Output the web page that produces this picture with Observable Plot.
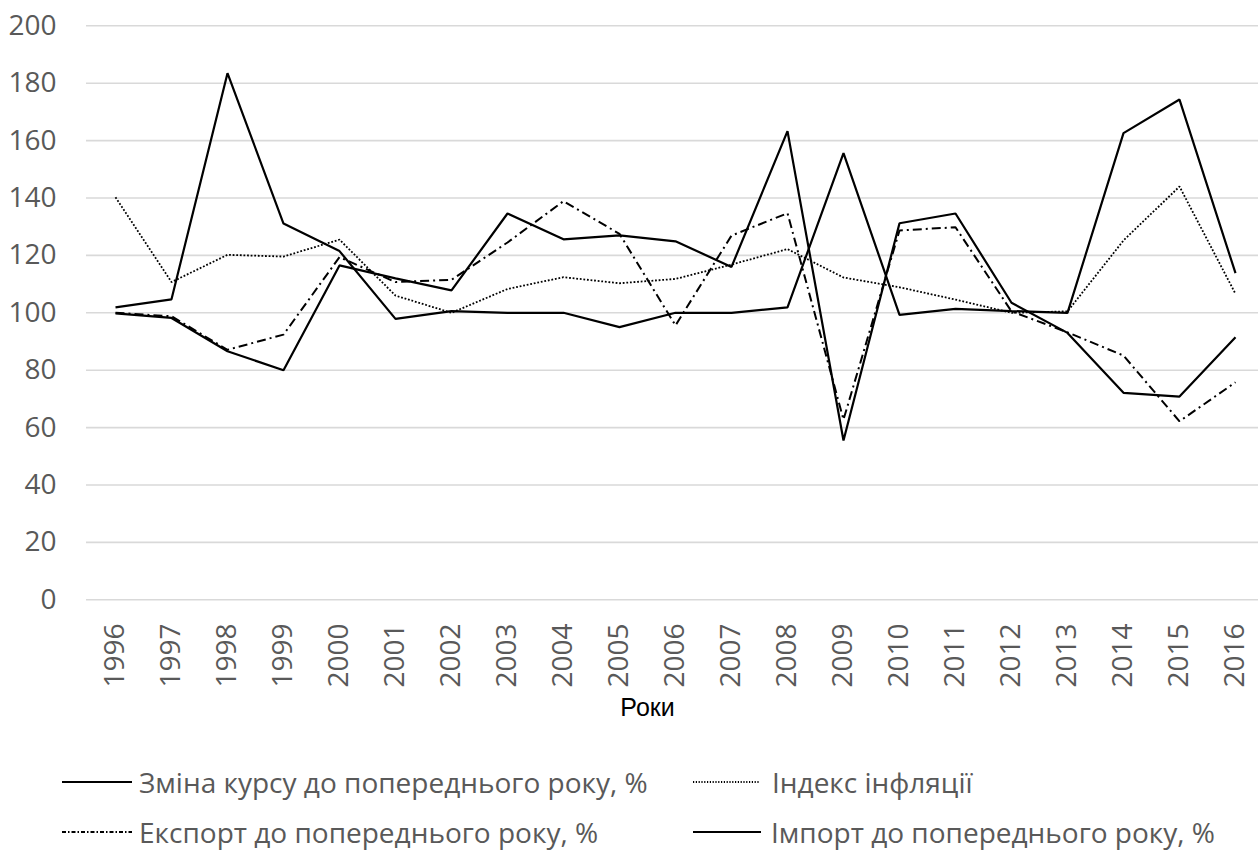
<!DOCTYPE html>
<html>
<head>
<meta charset="utf-8">
<script src="https://cdn.jsdelivr.net/npm/d3@7"></script>
<script src="https://cdn.jsdelivr.net/npm/@observablehq/plot@0.6"></script>
<style>
  html, body { margin: 0; padding: 0; background: #fff; }
  #wrap { position: relative; width: 1258px; height: 868px; font-family: "Open Sans", sans-serif; }
  #legend { position: absolute; left: 0; top: 0; width: 1258px; height: 868px; pointer-events: none; }
  .item { position: absolute; display: flex; align-items: center; font-size: 28px; color: #595959; white-space: nowrap; }
  .item svg { display: block; }
</style>
</head>
<body>
<div id="wrap"><div id="chart"></div><div id="legend"></div></div>
<script>
const years = [1996, 1997, 1998, 1999, 2000, 2001, 2002, 2003, 2004, 2005, 2006, 2007, 2008, 2009, 2010, 2011, 2012, 2013, 2014, 2015, 2016];
const kurs      = [101.9, 104.7, 183.5, 131.1, 121.5, 97.9, 100.6, 100, 100, 95, 100, 100, 101.9, 155.6, 99.3, 101.4, 100.6, 100, 162.6, 174.3, 113.8];
const inflation = [140.3, 110.7, 120.2, 119.6, 125.5, 106, 100, 108.3, 112.4, 110.3, 111.8, 116.8, 122.2, 112.3, 108.9, 104.6, 100, 100.5, 125.2, 144, 106.6];
const exportY   = [100, 98.8, 87.1, 92.4, 119.4, 110.7, 111.5, 124.5, 138.9, 127.5, 95.6, 126.9, 134.7, 62.8, 128.7, 129.8, 100.5, 93.2, 85.1, 62.2, 75.8];
const importY   = [99.8, 98.2, 86.6, 80, 116.5, 112, 107.8, 134.6, 125.6, 127, 124.9, 116, 163.3, 55.5, 131.2, 134.6, 103.5, 93, 72.1, 70.8, 91.5];
const yTicks = [0, 20, 40, 60, 80, 100, 120, 140, 160, 180, 200];
const seriesNames = ["Зміна курсу до попереднього року, %", "Індекс інфляції", "Експорт до попереднього року, %", "Імпорт до попереднього року, %"];
const xLabel = "Роки";

const styles = [
  {stroke: "#000", width: 2.2, dash: null},
  {stroke: "#000", width: 1.8, dash: "1.8,1.8"},
  {stroke: "#000", width: 2, dash: "9,4,2,4"},
  {stroke: "#000", width: 2.2, dash: null}
];
const seriesValues = [kurs, inflation, exportY, importY];
const rows = seriesValues.map(vals => years.map((y, i) => ({year: y, value: vals[i]})));

const chart = Plot.plot({
  width: 1258,
  height: 740,
  marginLeft: 86,
  marginRight: 0,
  marginTop: 25,
  marginBottom: 141,
  style: {fontFamily: "'Open Sans', sans-serif", background: "#fff", color: "#595959"},
  x: {type: "point", domain: years, range: [114.3, 1236], padding: 0},
  y: {domain: [0, 200], range: [599.3, 25.3]},
  marks: [
    Plot.ruleY(yTicks, {stroke: "#d9d9d9", strokeWidth: 1.6}),
    Plot.axisY({ticks: yTicks, tickSize: 0, tickPadding: 30, fontSize: 28, label: null, fill: "#595959"}),
    Plot.axisX({tickSize: 0, tickPadding: 24, tickRotate: -90, fontSize: 28, tickFormat: d => `${d}`, label: null, fill: "#595959"}),
    Plot.text([xLabel], {text: d => d, frameAnchor: "bottom", lineAnchor: "top", dy: 99, dx: -25, fontSize: 25, fill: "#000", fontFamily: "'Liberation Sans', Arial, sans-serif"}),
    ...rows.map((data, k) => Plot.line(data, {
      x: "year", y: "value",
      stroke: styles[k].stroke, strokeWidth: styles[k].width,
      strokeDasharray: styles[k].dash, strokeLinejoin: "miter", strokeLinecap: "butt"
    }))
  ]
});
document.getElementById("chart").appendChild(chart);

// Legend (HTML below the chart)
const legendPos = [
  {left: 62, top: 782, lineW: 70, gap: 7},
  {left: 693, top: 782, lineW: 66, gap: 13},
  {left: 62, top: 832, lineW: 70, gap: 7},
  {left: 693, top: 832, lineW: 68, gap: 10}
];
const legend = document.getElementById("legend");
seriesNames.forEach((name, k) => {
  const p = legendPos[k];
  const div = document.createElement("div");
  div.className = "item";
  div.style.left = p.left + "px";
  div.style.top = (p.top - 20) + "px";
  div.style.height = "40px";
  const ns = "http://www.w3.org/2000/svg";
  const svg = document.createElementNS(ns, "svg");
  svg.setAttribute("width", p.lineW);
  svg.setAttribute("height", 10);
  const ln = document.createElementNS(ns, "line");
  ln.setAttribute("x1", 0); ln.setAttribute("x2", p.lineW);
  ln.setAttribute("y1", 5); ln.setAttribute("y2", 5);
  ln.setAttribute("stroke", styles[k].stroke);
  ln.setAttribute("stroke-width", styles[k].width);
  if (styles[k].dash) ln.setAttribute("stroke-dasharray", k === 1 ? "1.2,1.6" : "4,2,1.5,2");
  svg.appendChild(ln);
  div.appendChild(svg);
  const span = document.createElement("span");
  span.textContent = name;
  span.style.marginLeft = p.gap + "px";
  div.appendChild(span);
  legend.appendChild(div);
});
</script>
</body>
</html>
